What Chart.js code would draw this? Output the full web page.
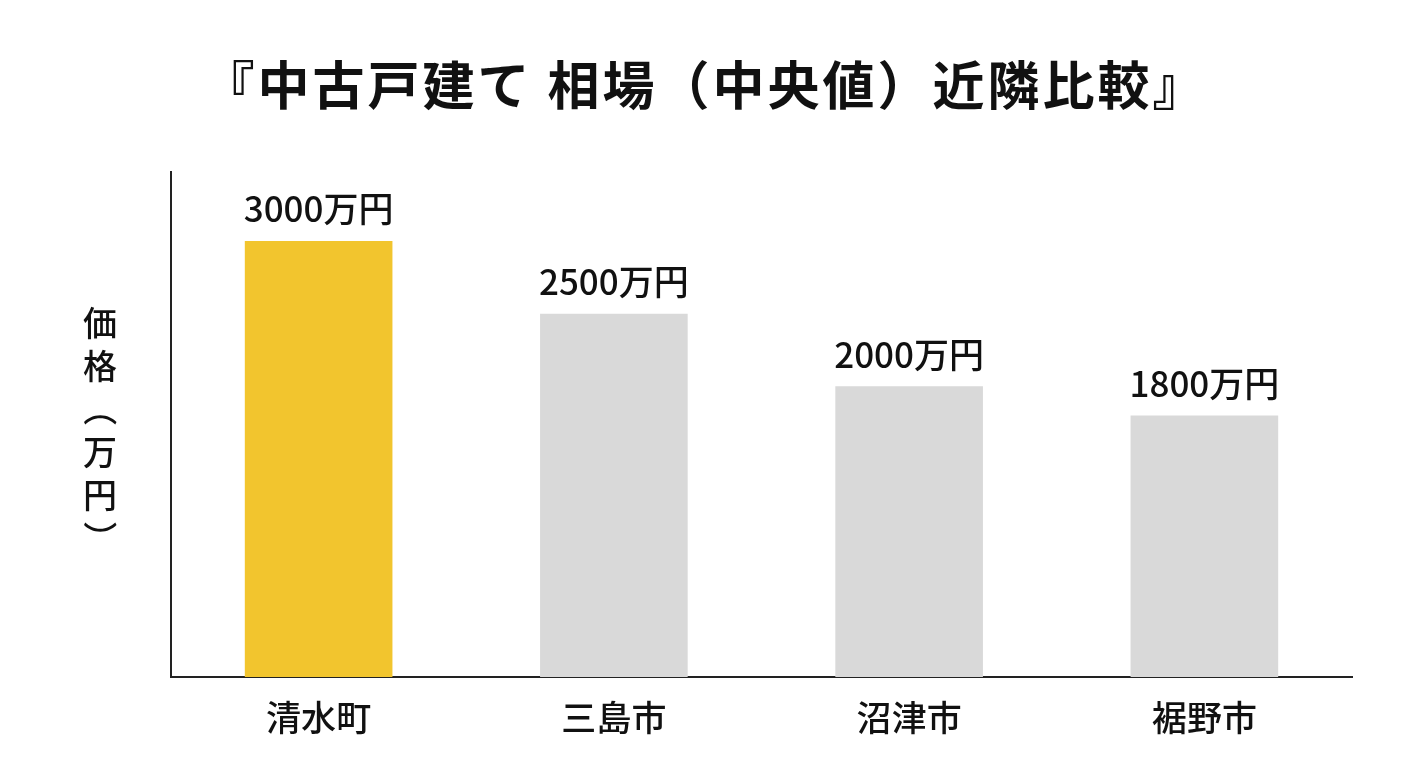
<!DOCTYPE html>
<html>
<head>
<meta charset="utf-8">
<script src="https://cdn.jsdelivr.net/npm/chart.js@4"></script>
<style>
html,body{margin:0;padding:0;background:#fff;}
#wrap{width:1408px;height:768px;}
</style>
</head>
<body>
<div id="wrap"><canvas id="myChart" width="1408" height="768"></canvas></div>
<script>
var categories = ['清水町', '三島市', '沼津市', '裾野市'];
var prices = [3000, 2500, 2000, 1800];
var barColors = ['#f2c52e', '#d9d9d9', '#d9d9d9', '#d9d9d9'];
var titleText = '『中古戸建て 相場（中央値）近隣比較』';
var yTitleChars = ['価', '格', '（', '万', '円', '）'];

var FONT = '"Noto Sans CJK JP", "Noto Sans", sans-serif';

// value labels above bars
var valueLabels = {
    id: 'valueLabels',
    afterDatasetsDraw: function(chart) {
        var ctx = chart.ctx;
        var meta = chart.getDatasetMeta(0);
        ctx.save();
        ctx.font = '500 35px ' + FONT;
        ctx.fillStyle = '#111';
        ctx.textAlign = 'center';
        ctx.textBaseline = 'middle';
        meta.data.forEach(function(bar, i) {
            ctx.fillText(prices[i] + '万円', bar.x, bar.y - 32);
        });
        ctx.restore();
    }
};

// title and vertical y axis title with upright characters
var extraText = {
    id: 'extraText',
    afterDraw: function(chart) {
        var ctx = chart.ctx;
        ctx.save();
        ctx.fillStyle = '#111';
        ctx.textAlign = 'center';
        ctx.textBaseline = 'middle';
        ctx.font = 'bold 52px ' + FONT;
        ctx.letterSpacing = '3px';
        ctx.fillText(titleText, 705, 85);
        ctx.letterSpacing = '0px';

        ctx.font = '500 34px ' + FONT;
        var x = 100, y = 323;
        yTitleChars.forEach(function(ch) {
            if (ch == '（' || ch == '）') {
                ctx.save();
                ctx.translate(x, y);
                ctx.rotate(Math.PI / 2);
                ctx.fillText(ch, 0, 0);
                ctx.restore();
            } else {
                ctx.fillText(ch, x, y);
            }
            y += 43;
        });
        ctx.restore();
    }
};

var ctx = document.getElementById('myChart').getContext('2d');
var myChart = new Chart(ctx, {
    type: 'bar',
    data: {
        labels: categories,
        datasets: [{
            data: prices,
            backgroundColor: barColors,
            barPercentage: 0.5,
            categoryPercentage: 1.0
        }]
    },
    options: {
        responsive: false,
        animation: false,
        layout: { padding: { left: 163, right: 56, top: 172, bottom: 17 } },
        plugins: {
            legend: { display: false },
            tooltip: { enabled: false },
            title: { display: false }
        },
        scales: {
            x: {
                grid: { display: false },
                border: { color: '#222', width: 2 },
                ticks: {
                    color: '#111',
                    padding: 12,
                    font: { family: FONT, size: 35, weight: '500' }
                }
            },
            y: {
                min: 0,
                max: 3475,
                grid: { display: false },
                border: { color: '#222', width: 2 },
                ticks: { display: false }
            }
        }
    },
    plugins: [valueLabels, extraText]
});
</script>
</body>
</html>
